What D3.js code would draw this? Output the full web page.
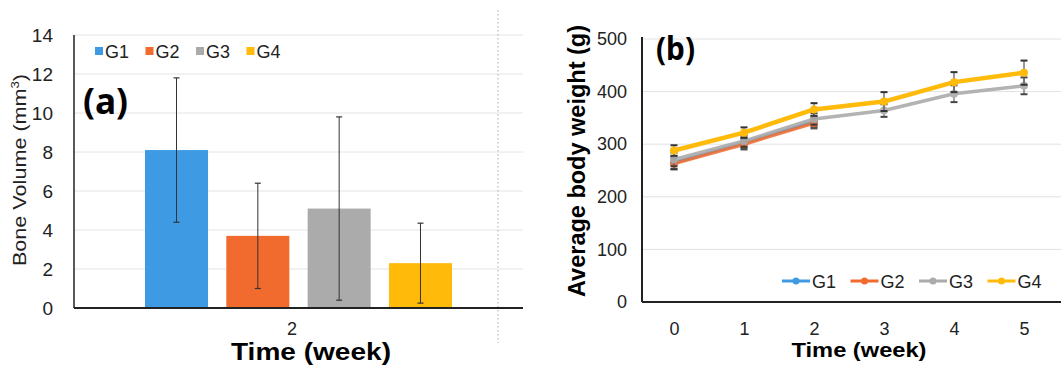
<!DOCTYPE html>
<html>
<head>
<meta charset="utf-8">
<script src="https://cdn.jsdelivr.net/npm/d3@7"></script>
<style>
  body { margin: 0; background: #fff; }
  svg { display: block; }
  .tick text { fill: #222; }
</style>
</head>
<body>
<svg id="fig" width="1061" height="367"></svg>
<script>
// shared
const groups = ['G1', 'G2', 'G3', 'G4'];
const groupColors = ['#3e9be3', '#f26b2e', '#ababab', '#ffba0a'];

// panel (a): bone volume at week 2
const boneWeeks = ['2'];
const boneMean = [8.1, 3.7, 5.1, 2.3];
const boneErr = [3.7, 2.7, 4.7, 2.05];
const boneTicks = [0, 2, 4, 6, 8, 10, 12, 14];

// panel (b): average body weight
const weeks = [0, 1, 2, 3, 4, 5];
const weightG1 = [265, 303, 343];
const weightG2 = [263, 300, 340];
const weightG3 = [271, 306, 348, 364, 396, 411];
const weightG4 = [288, 322, 366, 381, 418, 436];
const errG1 = [12, 10, 10];
const errG2 = [11, 10, 10];
const errG3 = [13, 11, 11, 12, 16, 16];
const errG4 = [10, 10, 12, 18, 19, 23];
const weightTicks = [0, 100, 200, 300, 400, 500];

const sans = '"Liberation Sans", Arial, sans-serif';
const label = '"Noto Sans", "Open Sans", sans-serif';

const svg = d3.select('#fig');

// ---------- panel (a) ----------
const a = svg.append('g').attr('class', 'panel-a');

const yA = d3.scaleLinear().domain([0, 14]).range([308, 35]);
const x0 = d3.scaleBand().domain(boneWeeks).range([74, 526]);
const x1 = d3.scaleBand().domain(groups).range([71, 378]).paddingInner(0.225);

// gridlines
a.append('g')
  .selectAll('line')
  .data(boneTicks.filter(d => d > 0))
  .join('line')
  .attr('x1', 74).attr('x2', 523)
  .attr('y1', d => yA(d)).attr('y2', d => yA(d))
  .attr('stroke', '#e4e4e4').attr('stroke-width', 1);

// dotted separator
a.append('line')
  .attr('x1', 498).attr('x2', 498).attr('y1', 10).attr('y2', 343)
  .attr('stroke', '#b8b8b8').attr('stroke-width', 1.2)
  .attr('stroke-dasharray', '1.5,2.5');

const boneData = groups.map((g, i) => ({ g, mean: boneMean[i], err: boneErr[i], color: groupColors[i] }));

a.append('g')
  .selectAll('rect')
  .data(boneData)
  .join('rect')
  .attr('x', d => 74 + x1(d.g))
  .attr('width', x1.bandwidth())
  .attr('y', d => yA(d.mean))
  .attr('height', d => yA(0) - yA(d.mean))
  .attr('fill', d => d.color);

// error bars
const ebA = a.append('g').selectAll('g').data(boneData).join('g')
  .attr('transform', d => `translate(${74 + x1(d.g) + x1.bandwidth() / 2},0)`);
ebA.append('line')
  .attr('y1', d => yA(d.mean + d.err)).attr('y2', d => yA(Math.max(0, d.mean - d.err)))
  .attr('stroke', '#333').attr('stroke-width', 1);
ebA.selectAll('line.cap')
  .data(d => [d.mean + d.err, Math.max(0, d.mean - d.err)])
  .join('line').attr('class', 'cap')
  .attr('x1', -3).attr('x2', 3)
  .attr('y1', d => yA(d)).attr('y2', d => yA(d))
  .attr('stroke', '#333').attr('stroke-width', 1.2);

// axes
const yAxisA = a.append('g')
  .attr('transform', 'translate(74,0)')
  .call(d3.axisLeft(yA).tickValues(boneTicks).tickSize(0).tickPadding(21));
yAxisA.select('.domain').remove();
yAxisA.selectAll('text').style('font-family', sans).style('font-size', '19px');

a.append('line').attr('x1', 74).attr('x2', 74).attr('y1', yA(14)).attr('y2', yA(0))
  .attr('stroke', '#222').attr('stroke-width', 1.5);

const xAxisA = a.append('g')
  .attr('transform', 'translate(0,308)')
  .call(d3.axisBottom(x0).tickSize(0).tickPadding(14));
xAxisA.select('.domain').remove();
xAxisA.selectAll('text').attr('dx', -8).style('font-family', sans).style('font-size', '18px');

a.append('line').attr('x1', 74).attr('x2', 523).attr('y1', 308).attr('y2', 308)
  .attr('stroke', '#222').attr('stroke-width', 2);

// titles
a.append('text')
  .attr('x', 311).attr('y', 360)
  .attr('text-anchor', 'middle')
  .attr('textLength', 160).attr('lengthAdjust', 'spacingAndGlyphs')
  .style('font-family', sans).style('font-weight', 'bold').style('font-size', '23px')
  .text('Time (week)');

const yTitleA = a.append('text')
  .attr('transform', 'translate(26,170) rotate(-90) scale(1.2,1)')
  .attr('text-anchor', 'middle')
  .style('font-family', sans).style('font-size', '18px').style('fill', '#222');
yTitleA.append('tspan').text('Bone Volume (mm');
yTitleA.append('tspan').attr('dy', -7).style('font-size', '11px').text('3');
yTitleA.append('tspan').attr('dy', 7).text(')');

a.append('text')
  .attr('x', 83).attr('y', 114)
  .attr('textLength', 45).attr('lengthAdjust', 'spacingAndGlyphs')
  .style('font-family', label).style('font-weight', 'bold').style('font-size', '36px')
  .text('(a)');

// legend
const legA = a.append('g').selectAll('g').data(boneData).join('g')
  .attr('transform', (d, i) => `translate(${95 + i * 50.5},51)`);
legA.append('rect').attr('x', 0).attr('y', -4).attr('width', 8).attr('height', 8)
  .attr('fill', d => d.color);
legA.append('text').attr('x', 10).attr('y', 7)
  .style('font-family', sans).style('font-size', '18px').style('fill', '#222')
  .text(d => d.g);

// ---------- panel (b) ----------
const b = svg.append('g').attr('class', 'panel-b');

const yB = d3.scaleLinear().domain([0, 500]).range([302, 39]);
const xB = d3.scalePoint().domain(weeks).range([639, 1059]).padding(0.5);

b.append('g')
  .selectAll('line')
  .data(weightTicks.filter(d => d > 0))
  .join('line')
  .attr('x1', 642).attr('x2', 1061)
  .attr('y1', d => yB(d)).attr('y2', d => yB(d))
  .attr('stroke', '#e2e2e2').attr('stroke-width', 1);

const yAxisB = b.append('g')
  .attr('transform', 'translate(642,0)')
  .call(d3.axisLeft(yB).tickValues(weightTicks).tickSize(0).tickPadding(15));
yAxisB.select('.domain').remove();
yAxisB.selectAll('text').style('font-family', sans).style('font-size', '18px');

const xAxisB = b.append('g')
  .attr('transform', 'translate(0,302)')
  .call(d3.axisBottom(xB).tickSize(0).tickPadding(20));
xAxisB.select('.domain').remove();
xAxisB.selectAll('text').style('font-family', sans).style('font-size', '18px');

b.append('line').attr('x1', 642).attr('x2', 642).attr('y1', 37).attr('y2', 302)
  .attr('stroke', '#222').attr('stroke-width', 2);
b.append('line').attr('x1', 642).attr('x2', 1061).attr('y1', 302).attr('y2', 302)
  .attr('stroke', '#222').attr('stroke-width', 2);

const series = [
  { g: 'G1', vals: weightG1, errs: errG1, color: groupColors[0], w: 3.5, op: 0.85 },
  { g: 'G2', vals: weightG2, errs: errG2, color: groupColors[1], w: 3.5, op: 0.85 },
  { g: 'G3', vals: weightG3, errs: errG3, color: groupColors[2], w: 3.5, op: 0.9 },
  { g: 'G4', vals: weightG4, errs: errG4, color: groupColors[3], w: 4.5, op: 1 }
];

const line = d3.line().x(d => xB(d.week)).y(d => yB(d.v));

series.forEach(s => {
  const pts = s.vals.map((v, i) => ({ week: weeks[i], v, e: s.errs[i] }));
  const sg = b.append('g').attr('class', 'series-' + s.g).attr('opacity', s.op);

  // error bars
  const eb = sg.selectAll('g.eb').data(pts).join('g').attr('class', 'eb')
    .attr('transform', d => `translate(${xB(d.week)},0)`);
  eb.append('line')
    .attr('y1', d => yB(d.v + d.e)).attr('y2', d => yB(d.v - d.e))
    .attr('stroke', '#555').attr('stroke-width', 1.2);
  eb.selectAll('line.cap').data(d => [d.v + d.e, d.v - d.e]).join('line').attr('class', 'cap')
    .attr('x1', -3.5).attr('x2', 3.5)
    .attr('y1', d => yB(d)).attr('y2', d => yB(d))
    .attr('stroke', '#333').attr('stroke-width', 2);

  sg.append('path').datum(pts)
    .attr('d', line)
    .attr('fill', 'none').attr('stroke', s.color)
    .attr('stroke-width', s.w).attr('stroke-linejoin', 'round');

  sg.selectAll('circle').data(pts).join('circle')
    .attr('cx', d => xB(d.week)).attr('cy', d => yB(d.v))
    .attr('r', 4).attr('fill', s.color);
});

// legend
const legB = b.append('g').selectAll('g').data(series).join('g')
  .attr('transform', (d, i) => `translate(${782 + i * 68.5},281)`);
legB.append('line').attr('x1', 0).attr('x2', 28)
  .attr('stroke', d => d.color).attr('stroke-width', 3);
legB.append('circle').attr('cx', 14).attr('r', 3.5).attr('fill', d => d.color);
legB.append('text').attr('x', 30).attr('y', 7)
  .style('font-family', sans).style('font-size', '18px').style('fill', '#222')
  .text(d => d.g);

// titles
b.append('text')
  .attr('x', 859).attr('y', 357)
  .attr('text-anchor', 'middle')
  .attr('textLength', 135).attr('lengthAdjust', 'spacingAndGlyphs')
  .style('font-family', sans).style('font-weight', 'bold').style('font-size', '21px')
  .text('Time (week)');

b.append('text')
  .attr('transform', 'translate(585,161) rotate(-90)')
  .attr('text-anchor', 'middle')
  .attr('textLength', 272).attr('lengthAdjust', 'spacingAndGlyphs')
  .style('font-family', sans).style('font-weight', 'bold').style('font-size', '23px')
  .text('Average body weight (g)');

b.append('text')
  .attr('x', 656).attr('y', 60)
  .attr('textLength', 39).attr('lengthAdjust', 'spacingAndGlyphs')
  .style('font-family', label).style('font-weight', 'bold').style('font-size', '32px')
  .text('(b)');
</script>
</body>
</html>
